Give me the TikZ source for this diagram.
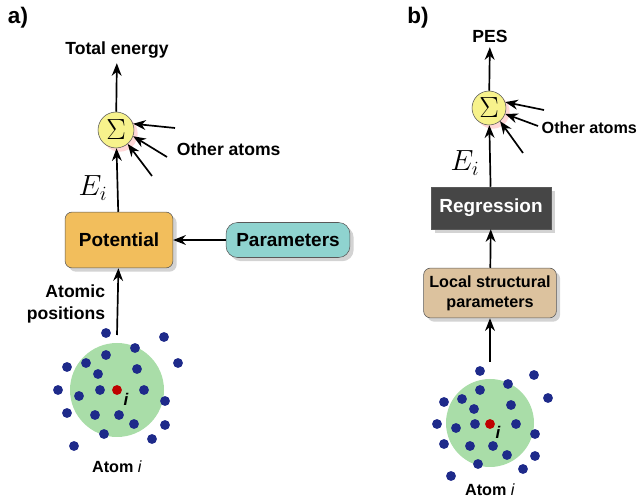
\documentclass[tikz,border=0pt]{standalone}
\usepackage{fontspec}
\setmainfont{Liberation Sans}
\usepackage{tikz}
\usetikzlibrary{positioning,arrows.meta,shadows}
\definecolor{potcol}{HTML}{F2BE5C}
\definecolor{parcol}{HTML}{8FD3CF}
\definecolor{loccol}{HTML}{DCC29E}
\definecolor{regcol}{HTML}{464646}
\definecolor{envcol}{HTML}{A9DDA8}
\definecolor{dotcol}{HTML}{1E2A8A}
\definecolor{sumcol}{HTML}{F7F28C}
\tikzset{
  box/.style={draw=gray!70!black, rounded corners=5pt, font=\bfseries\fontsize{13.5}{15}\selectfont, align=center, drop shadow={opacity=0.35}},
  sum/.style={circle, draw=gray!70!black, fill=sumcol, inner sep=0pt, font=\huge, drop shadow={fill=red!30, opacity=0.5}},
  lbl/.style={font=\bfseries\fontsize{12.5}{15}\selectfont},
  arr/.style={-{Stealth[length=9pt,width=7pt]}, line width=1.2pt},
  atom/.style={circle, fill=dotcol, inner sep=0pt, minimum size=7pt},
  centre/.style={circle, fill=red!75!black, inner sep=0pt, minimum size=7pt}
}
\begin{document}
\begin{tikzpicture}[x=0.025cm, y=-0.025cm]
    \useasboundingbox (0,0) rectangle (640,504);
    % Panel a
    \node[font=\bfseries\fontsize{16}{18}\selectfont] (la) at (18,18) {a)};
    \node[lbl] (total) at (117,50) {Total energy};
    \node[sum, minimum size=36pt*0.71] (suma) at (116,130) {$\Sigma$};
    \node[box, fill=potcol, minimum width=108*0.71pt, minimum height=56*0.71pt] (pot) at (119,240) {Potential};
    \node[box, fill=parcol, minimum width=124*0.71pt, minimum height=35*0.71pt, rounded corners=8pt] (par) at (288,240) {Parameters};
    \node[font=\huge] (eia) at (93,188) {$E_i$};
    \node[lbl, align=right, anchor=east] (posa) at (110,304) {Atomic\\positions};
    \fill[envcol] (117,390) circle (47);
    \node[centre] (ia) at (117,390) {};
    \node[font=\bfseries\itshape\large] at (126,399) {i};
    \foreach \x/\y in {106/333,164/337,135/348,106/355,86/363,67/367,178/363,98/374,137/369,58/390,79/396,100/390,144/390,165/401,67/413,95/415,119/415,134/424,165/425,104/434,152/439,74/446}
      \node[atom] at (\x,\y) {};
    \coordinate (basea) at (117,335);
    \node[font=\bfseries\fontsize{11.5}{13}\selectfont] (atoma) at (117,467) {Atom \textmd{\itshape i}};
    \node[lbl, anchor=west] (otha) at (172,149) {Other atoms};
    \coordinate (oa1) at (175,128);
    \coordinate (oa2) at (167,157);
    \coordinate (oa3) at (152,176);
    \draw[arr] (suma) -- (total);
    \draw[arr] (pot) -- (suma);
    \draw[arr] (par) -- (pot);
    \draw[arr] (basea) -- (pot);
    \draw[arr] (oa1) -- (suma.20);
    \draw[arr] (oa2) -- (suma.-20);
    \draw[arr] (oa3) -- (suma.-50);
    % Panel b
    \node[font=\bfseries\fontsize{16}{18}\selectfont] (lb) at (418,18) {b)};
    \node[lbl] (pes) at (490,36) {PES};
    \node[sum, minimum size=34pt*0.71] (sumb) at (489,108) {$\Sigma$};
    \node[font=\huge] (eib) at (465,163) {$E_i$};
    \node[box, fill=regcol, text=white, rounded corners=0pt, minimum width=120*0.71pt, minimum height=42*0.71pt] (reg) at (491,208) {Regression};
    \node[box, fill=loccol, font=\bfseries\fontsize{11.5}{14}\selectfont, minimum width=133*0.71pt, minimum height=50*0.71pt] (loc) at (490,293) {Local structural\\parameters};
    \fill[envcol] (490,423) circle (44);
    \node[centre] (ib) at (490,424) {};
    \node[font=\bfseries\itshape\large] at (498,432) {i};
    \foreach \x/\y in {480/371,534/375,508/384,480/390,462/399,444/402,548/398,474/409,511/405,437/424,456/428,475/424,516/424,535/434,444/444,470/446,493/446,507/455,535/456,478/464,523/469,451/476}
      \node[atom] at (\x,\y) {};
    \coordinate (baseb) at (490,362);
    \node[font=\bfseries\fontsize{11.5}{13}\selectfont] (atomb) at (490,490) {Atom \textmd{\itshape i}};
    \node[font=\bfseries\fontsize{11.5}{13}\selectfont, anchor=west, inner sep=1pt] (othb) at (540,128) {Other atoms};
    \coordinate (ob1) at (544,110);
    \coordinate (ob2) at (538,126);
    \coordinate (ob3) at (523,153);
    \draw[arr] (sumb) -- (pes);
    \draw[arr] (reg) -- (sumb);
    \draw[arr] (loc) -- (reg);
    \draw[arr] (baseb) -- (loc);
    \draw[arr] (ob1) -- (sumb.20);
    \draw[arr] (ob2) -- (sumb.-20);
    \draw[arr] (ob3) -- (sumb.-50);
\end{tikzpicture}
\end{document}
